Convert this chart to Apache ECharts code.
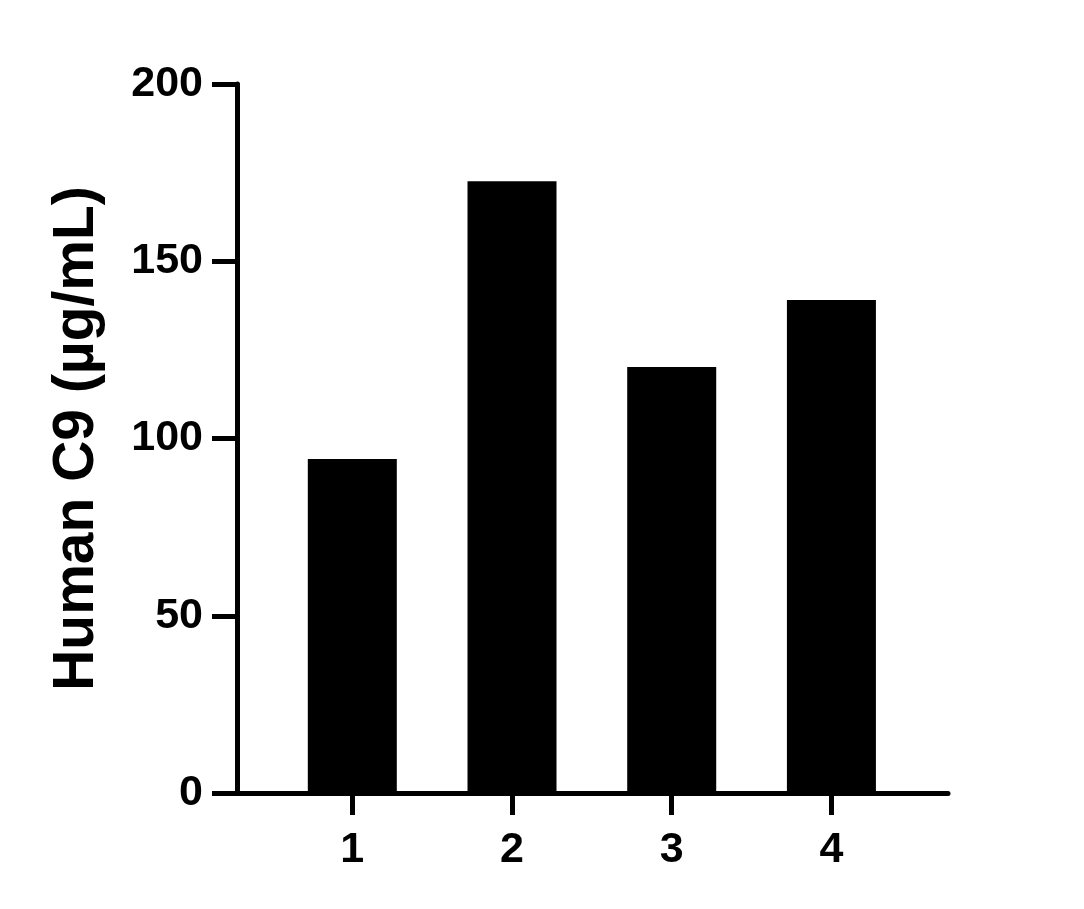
<!DOCTYPE html>
<html>
<head>
<meta charset="utf-8">
<script src="https://cdn.jsdelivr.net/npm/echarts@6/dist/echarts.min.js"></script>
<style>html,body{margin:0;padding:0;background:#fff;}#main{width:1084px;height:909px;}</style>
</head>
<body>
<div id="main"></div>
<script>
const categories = [1, 2, 3, 4];
const values = [94.2, 172.6, 120.2, 139.1];
const yTicks = [0, 50, 100, 150, 200];
const yTitle = 'Human C9 (µg/mL)';

const chart = echarts.init(document.getElementById('main'), null, {renderer: 'canvas'});
const font = '"Liberation Sans", Arial, sans-serif';
chart.setOption({
  animation: false,
  backgroundColor: '#fff',
  grid: {left: 237, right: 136, top: 84, bottom: 116, containLabel: false},
  xAxis: {
    type: 'value', min: 0.278, max: 4.73,
    axisLine: {show: true, lineStyle: {color: '#000', width: 5}},
    axisTick: {show: true, customValues: categories, length: 22, lineStyle: {color: '#000', width: 5}},
    axisLabel: {customValues: categories, color: '#000', fontSize: 43, fontWeight: 'bold', fontFamily: font, margin: 36},
    splitLine: {show: false}
  },
  yAxis: {
    type: 'value', min: yTicks[0], max: yTicks[yTicks.length - 1], interval: 50,
    name: yTitle, nameLocation: 'middle', nameRotate: 90, nameGap: 131,
    nameTextStyle: {color: '#000', fontSize: 57, fontWeight: 'bold', fontFamily: font},
    axisLine: {show: true, lineStyle: {color: '#000', width: 5}},
    axisTick: {show: true, length: 25, lineStyle: {color: '#000', width: 5}},
    axisLabel: {color: '#000', fontSize: 43, fontWeight: 'bold', fontFamily: font, margin: 34},
    splitLine: {show: false}
  },
  series: [{
    type: 'bar', barWidth: 89,
    itemStyle: {color: '#000'},
    data: categories.map((c, i) => [c, values[i]])
  }]
});
</script>
</body>
</html>
